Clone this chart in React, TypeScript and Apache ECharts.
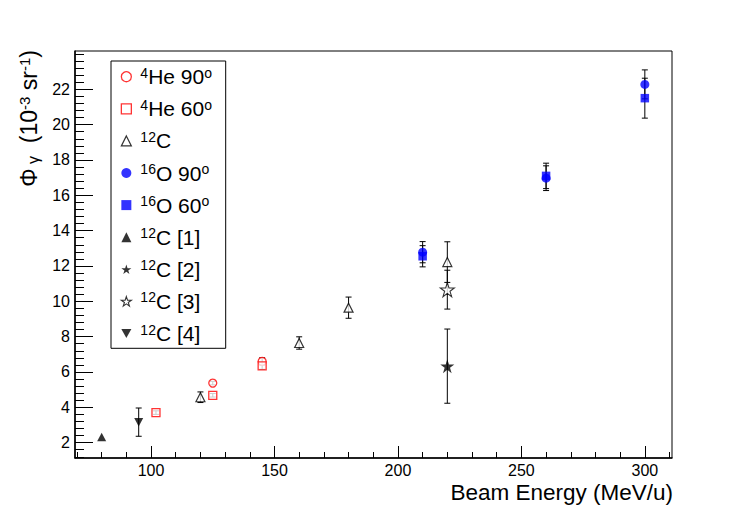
import React, { useEffect, useRef } from "react";
import * as echarts from "echarts";

// ---- axes ----
const xRange = [69.2, 311];
const yRange = [1.13, 24.17];
const xMajorTicks = [100, 150, 200, 250, 300];
const yMajorTicks = [2, 4, 6, 8, 10, 12, 14, 16, 18, 20, 22];
const xMinorStep = 10;
const yMinorStep = 0.4;

// ---- data ----
const he4_90_x = [125, 145];
const he4_90_y = [5.37, 6.6];
const he4_90_err = [0.1, 0.2];

const he4_60_x = [102, 125, 145];
const he4_60_y = [3.7, 4.68, 6.35];
const he4_60_err = [0.1, 0.1, 0.2];

const c12_x = [120, 160, 180, 220];
const c12_y = [4.57, 7.64, 9.64, 12.22];
const c12_err = [0.3, 0.35, 0.6, 1.15];

const o16_90_x = [210, 260, 300];
const o16_90_y = [12.78, 16.97, 22.28];
const o16_90_err = [0.6, 0.7, 0.82];

const o16_60_x = [210, 260, 300];
const o16_60_y = [12.55, 17.1, 21.5];
const o16_60_err = [0.6, 0.72, 1.13];

const c12_r1_x = [80];
const c12_r1_y = [2.32];
const c12_r1_err = [0];

const c12_r2_x = [220];
const c12_r2_y = [6.33];
const c12_r2_err = [2.1];

const c12_r3_x = [220];
const c12_r3_y = [10.66];
const c12_r3_err = [1.1];

const c12_r4_x = [95];
const c12_r4_y = [3.16];
const c12_r4_err = [0.8];

const FONT = "Liberation Sans, Arial, Helvetica, sans-serif";
const STAR = "path://M50,0 L61.2,34.5 L97.6,34.5 L68.2,55.9 L79.4,90.5 L50,69.1 L20.6,90.5 L31.8,55.9 L2.4,34.5 L38.8,34.5 Z";
const TRI_DOWN = "path://M0,0 L10,0 L5,9 Z";

type SeriesDef = {
  name: string;
  label: string;
  xs: number[];
  ys: number[];
  err: number[];
  symbol: string;
  size: number | number[];
  style: any;
};

const defs: SeriesDef[] = [
  { name: "he90", label: "{g| }{sup|4}{n|He 90}{sup|o}", xs: he4_90_x, ys: he4_90_y, err: he4_90_err, symbol: "circle", size: 8, style: { color: "#ffffff", borderColor: "#ff0000", borderWidth: 1.3 } },
  { name: "he60", label: "{g| }{sup|4}{n|He 60}{sup|o}", xs: he4_60_x, ys: he4_60_y, err: he4_60_err, symbol: "rect", size: 8, style: { color: "#ffffff", borderColor: "#ff0000", borderWidth: 1.3 } },
  { name: "c12", label: "{g| }{sup|12}{n|C}", xs: c12_x, ys: c12_y, err: c12_err, symbol: "triangle", size: [9, 9], style: { color: "#ffffff", borderColor: "#000000", borderWidth: 1.2 } },
  { name: "o90", label: "{g| }{sup|16}{n|O 90}{sup|o}", xs: o16_90_x, ys: o16_90_y, err: o16_90_err, symbol: "circle", size: 9, style: { color: "#0000ff" } },
  { name: "o60", label: "{g| }{sup|16}{n|O 60}{sup|o}", xs: o16_60_x, ys: o16_60_y, err: o16_60_err, symbol: "rect", size: 8.5, style: { color: "#0000ff" } },
  { name: "r1", label: "{g| }{sup|12}{n|C [1]}", xs: c12_r1_x, ys: c12_r1_y, err: c12_r1_err, symbol: "triangle", size: [9, 8.5], style: { color: "#000000" } },
  { name: "r2", label: "{g| }{sup|12}{n|C [2]}", xs: c12_r2_x, ys: c12_r2_y, err: c12_r2_err, symbol: STAR, size: 14, style: { color: "#000000" } },
  { name: "r3", label: "{g| }{sup|12}{n|C [3]}", xs: c12_r3_x, ys: c12_r3_y, err: c12_r3_err, symbol: STAR, size: 14, style: { color: "#ffffff", borderColor: "#000000", borderWidth: 1.1 } },
  { name: "r4", label: "{g| }{sup|12}{n|C [4]}", xs: c12_r4_x, ys: c12_r4_y, err: c12_r4_err, symbol: TRI_DOWN, size: [9, 8.5], style: { color: "#000000" } },
];

function minorValues(min: number, max: number, step: number): number[] {
  const out: number[] = [];
  const start = Math.ceil(min / step - 1e-9);
  for (let i = start; i * step <= max + 1e-9; i++) out.push(Math.round(i * step * 1000) / 1000);
  return out;
}

export default function App() {
  const ref = useRef<HTMLDivElement>(null);

  useEffect(() => {
    if (!ref.current) return;
    const chart = echarts.init(ref.current, undefined, { renderer: "svg" });

    const errData: number[][] = [];
    defs.forEach((d) => {
      d.xs.forEach((x, i) => {
        if (d.err[i] > 0) errData.push([x, d.ys[i] - d.err[i], d.ys[i] + d.err[i]]);
      });
    });

    const xMinor = minorValues(xRange[0], xRange[1], xMinorStep);
    const yMinor = minorValues(yRange[0], yRange[1], yMinorStep);

    const labelMap: Record<string, string> = {};
    defs.forEach((d) => (labelMap[d.name] = d.label));

    const baseAxis = {
      type: "value" as const,
      splitLine: { show: false },
    };

    const option: any = {
      animation: false,
      backgroundColor: "#ffffff",
      grid: {
        left: 75,
        right: 75,
        top: 51,
        bottom: 51,
        show: true,
        borderColor: "#000000",
        borderWidth: 1,
        backgroundColor: "transparent",
      },
      xAxis: [
        {
          ...baseAxis,
          min: xRange[0],
          max: xRange[1],
          position: "bottom",
          axisLine: { show: true, onZero: false, lineStyle: { color: "#000", width: 1.5 } },
          axisTick: { show: true, inside: true, length: 12, customValues: xMajorTicks, lineStyle: { color: "#000", width: 1 } },
          axisLabel: { show: true, customValues: xMajorTicks, margin: 4, color: "#000", fontSize: 16, fontFamily: FONT },
        },
        {
          ...baseAxis,
          min: xRange[0],
          max: xRange[1],
          position: "bottom",
          axisLine: { show: false },
          axisTick: { show: true, inside: true, length: 6, customValues: xMinor, lineStyle: { color: "#000", width: 1 } },
          axisLabel: { show: false },
        },
      ],
      yAxis: [
        {
          ...baseAxis,
          min: yRange[0],
          max: yRange[1],
          position: "left",
          axisLine: { show: true, onZero: false, lineStyle: { color: "#000", width: 1.5 } },
          axisTick: { show: true, inside: true, length: 18, customValues: yMajorTicks, lineStyle: { color: "#000", width: 1 } },
          axisLabel: { show: true, customValues: yMajorTicks, margin: 5, color: "#000", fontSize: 16, fontFamily: FONT },
        },
        {
          ...baseAxis,
          min: yRange[0],
          max: yRange[1],
          position: "left",
          axisLine: { show: false },
          axisTick: { show: true, inside: true, length: 9, customValues: yMinor, lineStyle: { color: "#000", width: 1 } },
          axisLabel: { show: false },
        },
      ],
      legend: {
        orient: "vertical",
        left: 120.7,
        top: 65.7,
        padding: 0,
        itemWidth: 10,
        itemHeight: 10,
        itemGap: 10.1,
        selectedMode: false,
        data: defs.map((d) => ({ name: d.name, icon: d.symbol, itemStyle: d.style })),
        formatter: (name: string) => labelMap[name],
        textStyle: {
          color: "#000",
          fontFamily: FONT,
          fontSize: 21,
          lineHeight: 22,
          rich: {
            g: { fontSize: 10, width: 4, lineHeight: 22 },
            n: { fontSize: 21, fontFamily: FONT, color: "#000", lineHeight: 22 },
            sup: { fontSize: 14, fontFamily: FONT, color: "#000", lineHeight: 12, verticalAlign: "top" },
          },
        },
      },
      graphic: [
        {
          type: "rect",
          shape: { x: 111, y: 61, width: 114.7, height: 287.3 },
          style: { fill: "transparent", stroke: "#000", lineWidth: 1 },
          z: 1,
        },
        {
          type: "text",
          x: 673,
          y: 492,
          style: {
            text: "Beam Energy (MeV/u)",
            align: "right",
            verticalAlign: "middle",
            fontSize: 22.5,
            fontFamily: FONT,
            fill: "#000",
          },
        },
        {
          type: "text",
          x: 29,
          y: 50,
          rotation: Math.PI / 2,
          style: {
            text: "{n|Φ}{sub| γ}{n|  (10}{sup|-3}{n| sr}{sup|-1}{n|)}",
            align: "right",
            verticalAlign: "middle",
            fill: "#000",
            rich: {
              n: { fontSize: 23, fontFamily: FONT, fill: "#000", lineHeight: 24 },
              sup: { fontSize: 15, fontFamily: FONT, fill: "#000", lineHeight: 13, verticalAlign: "top" },
              sub: { fontSize: 16, fontFamily: FONT, fill: "#000", lineHeight: 13, verticalAlign: "bottom" },
            },
          },
        },
      ],
      series: [
        {
          type: "custom",
          name: "errors",
          xAxisIndex: 0,
          yAxisIndex: 0,
          z: 1,
          encode: { x: 0, y: [1, 2] },
          data: errData,
          renderItem: (_params: any, api: any) => {
            const x = api.value(0);
            const lo = api.coord([x, api.value(1)]);
            const hi = api.coord([x, api.value(2)]);
            const w = 3;
            const st = { stroke: "#000", lineWidth: 1 };
            return {
              type: "group",
              children: [
                { type: "line", shape: { x1: lo[0], y1: lo[1], x2: hi[0], y2: hi[1] }, style: st },
                { type: "line", shape: { x1: lo[0] - w, y1: lo[1], x2: lo[0] + w, y2: lo[1] }, style: st },
                { type: "line", shape: { x1: hi[0] - w, y1: hi[1], x2: hi[0] + w, y2: hi[1] }, style: st },
              ],
            };
          },
        },
        ...defs.map((d) => ({
          type: "scatter",
          name: d.name,
          xAxisIndex: 0,
          yAxisIndex: 0,
          z: 3,
          symbol: d.symbol,
          symbolSize: d.size,
          itemStyle: d.style,
          emphasis: { disabled: true },
          data: d.xs.map((x, i) => [x, d.ys[i]]),
        })),
      ],
    };

    chart.setOption(option);
    return () => chart.dispose();
  }, []);

  return <div ref={ref} style={{ width: 747, height: 509, marginLeft: -8, marginTop: -8 }} />;
}
